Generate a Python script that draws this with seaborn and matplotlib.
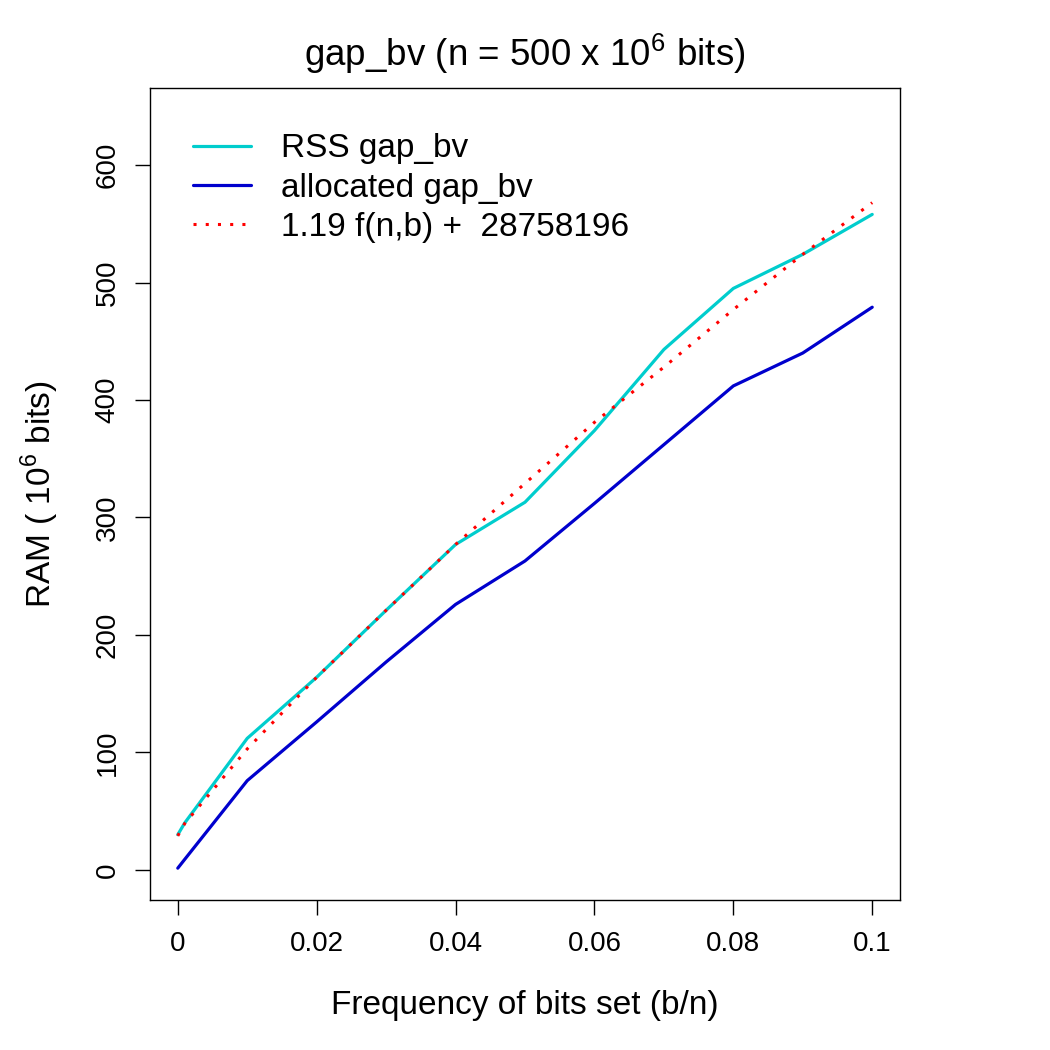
import matplotlib
matplotlib.use("Agg")
import matplotlib.pyplot as plt
import seaborn as sns
import pandas as pd

# ---- data ----
freq = [0.0, 0.001, 0.01, 0.02, 0.03, 0.04, 0.05, 0.06, 0.07, 0.08, 0.09, 0.1]
rss_gap_bv = [30, 40, 112, 164, 221, 277, 313, 374, 443, 495, 524, 558]
alloc_gap_bv = [1.5, 9, 76, 126, 177, 226, 263, 312, 362, 412, 440, 479]
fit_gap_bv = [29, 39.5, 103, 164, 221, 277, 329, 381, 428, 477, 524, 568]

series_labels = ["RSS gap_bv", "allocated gap_bv", "1.19 f(n,b) +  28758196"]
x_ticks = [0, 0.02, 0.04, 0.06, 0.08, 0.1]
x_tick_labels = ["0", "0.02", "0.04", "0.06", "0.08", "0.1"]
y_ticks = [0, 100, 200, 300, 400, 500, 600]
y_tick_labels = ["0", "100", "200", "300", "400", "500", "600"]

df = pd.DataFrame({"freq": freq, "rss": rss_gap_bv, "alloc": alloc_gap_bv, "fit": fit_gap_bv})

sns.set_style("ticks")
plt.rcParams["font.family"] = ["Liberation Sans", "DejaVu Sans"]
plt.rcParams["mathtext.fontset"] = "custom"
plt.rcParams["mathtext.rm"] = "Liberation Sans"
for k in ["text.color", "axes.labelcolor", "xtick.color", "ytick.color", "axes.edgecolor"]:
    plt.rcParams[k] = "black"

fig = plt.figure(figsize=(10.5, 10.5), dpi=100)
ax = fig.add_axes([150 / 1050, 150 / 1050, 750 / 1050, 812 / 1050])

sns.lineplot(data=df, x="freq", y="rss", ax=ax, color="#00CDCD", linewidth=2.3, label=series_labels[0])
sns.lineplot(data=df, x="freq", y="alloc", ax=ax, color="#0000CD", linewidth=2.3, label=series_labels[1])
sns.lineplot(data=df, x="freq", y="fit", ax=ax, color="#FF0000", linewidth=2.2,
             linestyle=(0, (1, 3)), label=series_labels[2])

ax.set_xlim(-0.004, 0.104)
ax.set_ylim(-25.6, 665.6)
ax.set_xticks(x_ticks)
ax.set_xticklabels(x_tick_labels)
ax.set_yticks(y_ticks)
ax.set_yticklabels(y_tick_labels, rotation=90, va="center")

for s in ax.spines.values():
    s.set_visible(True)
    s.set_color("black")
    s.set_linewidth(1.0)

ax.tick_params(axis="both", direction="out", length=11, width=1.0, colors="black",
               labelsize=20)
ax.tick_params(axis="x", pad=11)
ax.tick_params(axis="y", pad=10)

ax.set_xlabel("Frequency of bits set (b/n)", fontsize=24)
ax.xaxis.set_label_coords(0.5, -0.111)
ax.set_ylabel(r"RAM ( 10$^{6}$ bits)", fontsize=24)
ax.yaxis.set_label_coords(-0.118, 0.5)
ax.set_title(r"gap_bv (n = 500 x 10$^{6}$ bits)", fontsize=26.5, pad=16)

leg = ax.legend(loc="upper left", bbox_to_anchor=(0.057, 0.944), frameon=False,
                fontsize=24, handlelength=1.74, handletextpad=0.9, labelspacing=0.25,
                borderpad=0, borderaxespad=0)

fig.savefig("out.png", dpi=100)
